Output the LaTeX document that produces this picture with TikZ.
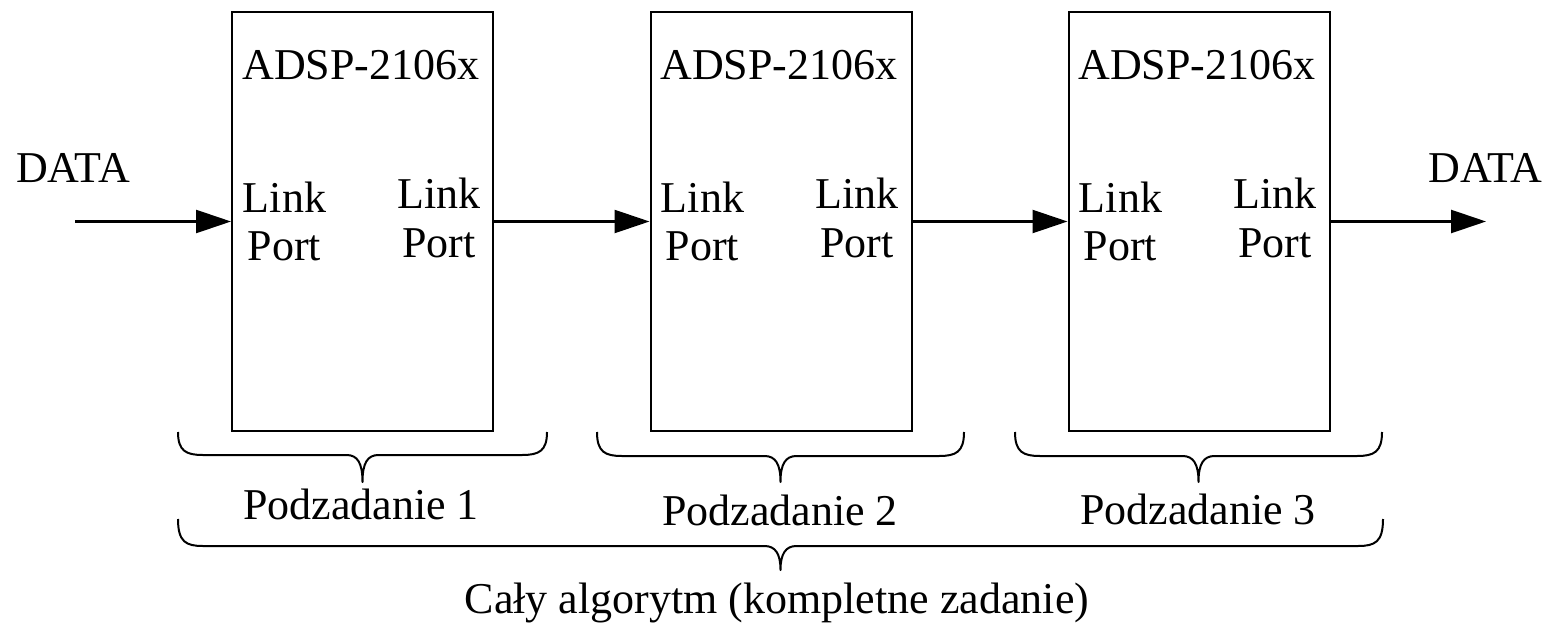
\documentclass[tikz,border=0pt]{standalone}
\usepackage{fontspec}
\setmainfont{Liberation Serif}
\usetikzlibrary{arrows.meta}
\newcommand\curlybrace[5]{% x0, x1, top, mid, tip
  \pgfmathsetmacro\bc{(#1+#2)/2}%
  \draw[bracestyle] (#1,#3) .. controls (#1,#4-4) and (#1+8,#4) .. (#1+25,#4)
    -- (\bc-16,#4) .. controls (\bc-5,#4) and (\bc,#4+8) .. (\bc,#5)
    .. controls (\bc,#4+8) and (\bc+5,#4) .. (\bc+16,#4)
    -- (#2-25,#4) .. controls (#2-8,#4) and (#2,#4-4) .. (#2,#3);
}
\begin{document}
\begin{tikzpicture}[x=0.5pt,y=-0.5pt,
  chip/.style={draw, line width=1pt, minimum width=130.5pt, minimum height=209pt, inner sep=0pt},
  lbl/.style={font=\fontsize{22}{24}\selectfont, inner sep=0pt, anchor=base},
  flow/.style={line width=1.2pt, -{Triangle[length=17.5pt,width=11.5pt]}},
  bracestyle/.style={line width=1pt, line join=round}]
\useasboundingbox (0,0) rectangle (1552,626);

% boxes
\node[chip] (b1) at (362.5,221.5) {};
\node[chip] (b2) at (781,221.5) {};
\node[chip] (b3) at (1199,221.5) {};

% box titles
\node[lbl] (t1) at (361,80) {ADSP-2106x};
\node[lbl] (t2) at (779,80) {ADSP-2106x};
\node[lbl] (t3) at (1197,80) {ADSP-2106x};

% link ports
\foreach \i/\l in {1/232,2/650,3/1068}{
  \node[lbl] (li\i) at (\l+52.5,212) {Link};
  \node[lbl] (pi\i) at (\l+52.5,260) {Port};
  \node[lbl] (lo\i) at (\l+207,208) {Link};
  \node[lbl] (po\i) at (\l+207,257) {Port};
}

% data labels
\node[lbl] (din) at (73,183) {DATA};
\node[lbl] (dout) at (1485.5,183) {DATA};

% connectors
\coordinate (src) at (75,221.5);
\coordinate (snk) at (1486,221.5);
\draw[flow] (src) -- (b1.west);
\draw[flow] (b1.east) -- (b2.west);
\draw[flow] (b2.east) -- (b3.west);
\draw[flow] (b3.east) -- (snk);

% braces
\curlybrace{178}{547}{432}{455}{482}
\curlybrace{597}{964}{432}{456}{482}
\curlybrace{1015}{1382}{432}{456}{482}
\curlybrace{178}{1383}{519}{546}{570}

% brace labels
\node[lbl] (s1) at (361,519) {Podzadanie 1};
\node[lbl] (s2) at (780,525) {Podzadanie 2};
\node[lbl] (s3) at (1198,524) {Podzadanie 3};
\node[lbl] (all) at (777,613) {Cały algorytm (kompletne zadanie)};
\end{tikzpicture}
\end{document}
